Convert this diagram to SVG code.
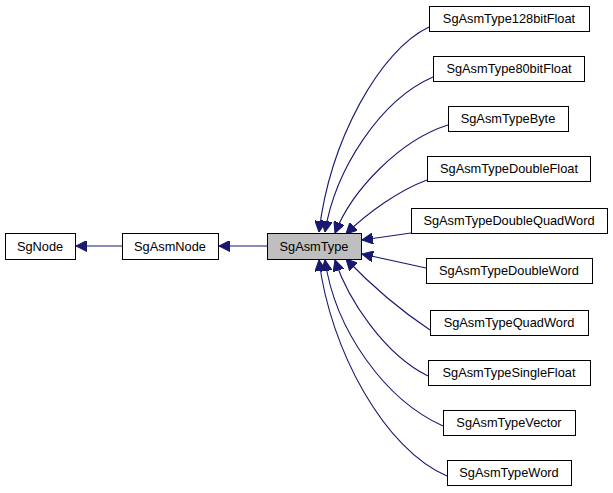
<svg xmlns="http://www.w3.org/2000/svg" width="613" height="493" viewBox="0 0 613 493">
<style>
.n rect{fill:#fff;stroke:#000;stroke-width:1}
.n text{font-family:"Liberation Sans",Arial,sans-serif;font-size:12.8px;text-anchor:middle}
.e path{fill:none;stroke:#191970;stroke-width:1.1;marker-end:url(#a)}
</style>
<defs><marker id="a" viewBox="0 0 10 10" refX="10" refY="5" markerWidth="11" markerHeight="11" markerUnits="userSpaceOnUse" orient="auto"><path d="M0,0L10,5L0,10z" fill="#191970" stroke="#191970"/></marker></defs>
<rect width="613" height="493" fill="#fff"/>
<g class="e">
<path d="M122,246H76"/>
<path d="M267,246H219"/>
<path d="M429,27C380,50 330,140 319,232"/>
<path d="M433,77C380,100 335,170 325,232"/>
<path d="M448,125C400,140 352,190 335,233"/>
<path d="M427,180C400,190 368,212 346,234"/>
<path d="M411,233L362,240"/>
<path d="M426,268L362,254"/>
<path d="M430,330C400,310 368,282 346,259"/>
<path d="M428,376C385,355 348,300 335,260"/>
<path d="M443,426C385,400 335,330 325,260"/>
<path d="M447,476C385,450 330,350 319,260"/>
</g>
<g class="n" id="SgNode"><rect x="5.5" y="233.5" width="70" height="26"/><text x="40" y="251">SgNode</text></g>
<g class="n" id="SgAsmNode"><rect x="122.5" y="233.5" width="96" height="26"/><text x="170" y="251">SgAsmNode</text></g>
<g class="n" id="SgAsmType"><rect x="267.5" y="233.5" width="94" height="26" style="fill:#bfbfbf"/><text x="314" y="251">SgAsmType</text></g>
<g class="n" id="f128"><rect x="429.5" y="6.5" width="160" height="25"/><text x="509" y="23">SgAsmType128bitFloat</text></g>
<g class="n" id="f80"><rect x="433.5" y="56.5" width="151" height="25"/><text x="509" y="73">SgAsmType80bitFloat</text></g>
<g class="n" id="byte"><rect x="448.5" y="106.5" width="120" height="25"/><text x="508" y="123">SgAsmTypeByte</text></g>
<g class="n" id="df"><rect x="427.5" y="156.5" width="163" height="25"/><text x="509" y="173">SgAsmTypeDoubleFloat</text></g>
<g class="n" id="dqw"><rect x="411.5" y="208.5" width="196" height="25"/><text x="509" y="225">SgAsmTypeDoubleQuadWord</text></g>
<g class="n" id="dw"><rect x="426.5" y="258.5" width="166" height="25"/><text x="509" y="275">SgAsmTypeDoubleWord</text></g>
<g class="n" id="qw"><rect x="430.5" y="310.5" width="158" height="25"/><text x="509" y="327">SgAsmTypeQuadWord</text></g>
<g class="n" id="sf"><rect x="428.5" y="360.5" width="162" height="25"/><text x="509" y="377">SgAsmTypeSingleFloat</text></g>
<g class="n" id="vec"><rect x="443.5" y="410.5" width="132" height="25"/><text x="509" y="427">SgAsmTypeVector</text></g>
<g class="n" id="word"><rect x="447.5" y="460.5" width="124" height="25"/><text x="509" y="477">SgAsmTypeWord</text></g>
</svg>
